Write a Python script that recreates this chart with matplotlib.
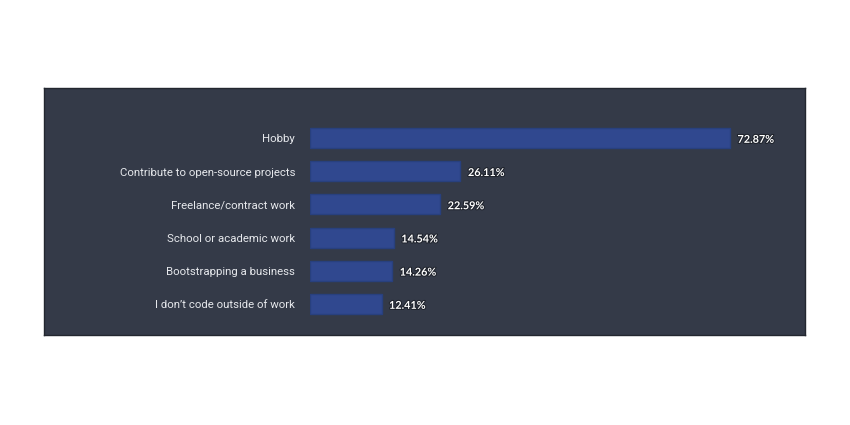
import matplotlib.pyplot as plt
import matplotlib.patheffects as pe

categories = ['Hobby', 'Contribute to open-source projects', 'Freelance/contract work',
              'School or academic work', 'Bootstrapping a business', 'I don\u2019t code outside of work']
values = [72.87, 26.11, 22.59, 14.54, 14.26, 12.41]

W, H = 850, 425
fig = plt.figure(figsize=(8.5, 4.25), dpi=100)
fig.patch.set_facecolor('white')

# dark panel as a background axes
bg = fig.add_axes([44 / W, (H - 335) / H, (805 - 44) / W, (335 - 88) / H], zorder=0)
bg.set_facecolor('#343a48')
bg.set_xticks([])
bg.set_yticks([])
for s in bg.spines.values():
    s.set_color('#23272f')
    s.set_linewidth(1)

ax = fig.add_axes([310 / W, (H - 335) / H, (805 - 310) / W, (335 - 88) / H], zorder=1)
ax.set_facecolor('none')
ax.set_xlim(0, (805 - 310) / 5.764)
ax.set_ylim(5.934, -1.506)

y = list(range(len(values)))
ax.barh(y, values, height=0.6, color='#30488f', edgecolor='#28407e', linewidth=1)

for yi, v, c in zip(y, values, categories):
    ax.text(v + 1.3, yi + 0.04, f'{v:.2f}%', va='center', ha='left', color='white',
            fontsize=7.8, fontweight='bold', family='Lato',
            path_effects=[pe.withStroke(linewidth=1.5, foreground='#1e222b')])
    ax.text(-2.6, yi + 0.04, c, va='center', ha='right', color='#e6e8ec', fontsize=8.2,
            family='Roboto', clip_on=False)

for s in ax.spines.values():
    s.set_visible(False)
ax.set_xticks([])
ax.set_yticks([])

fig.savefig('out.png', dpi=100, facecolor='white')
